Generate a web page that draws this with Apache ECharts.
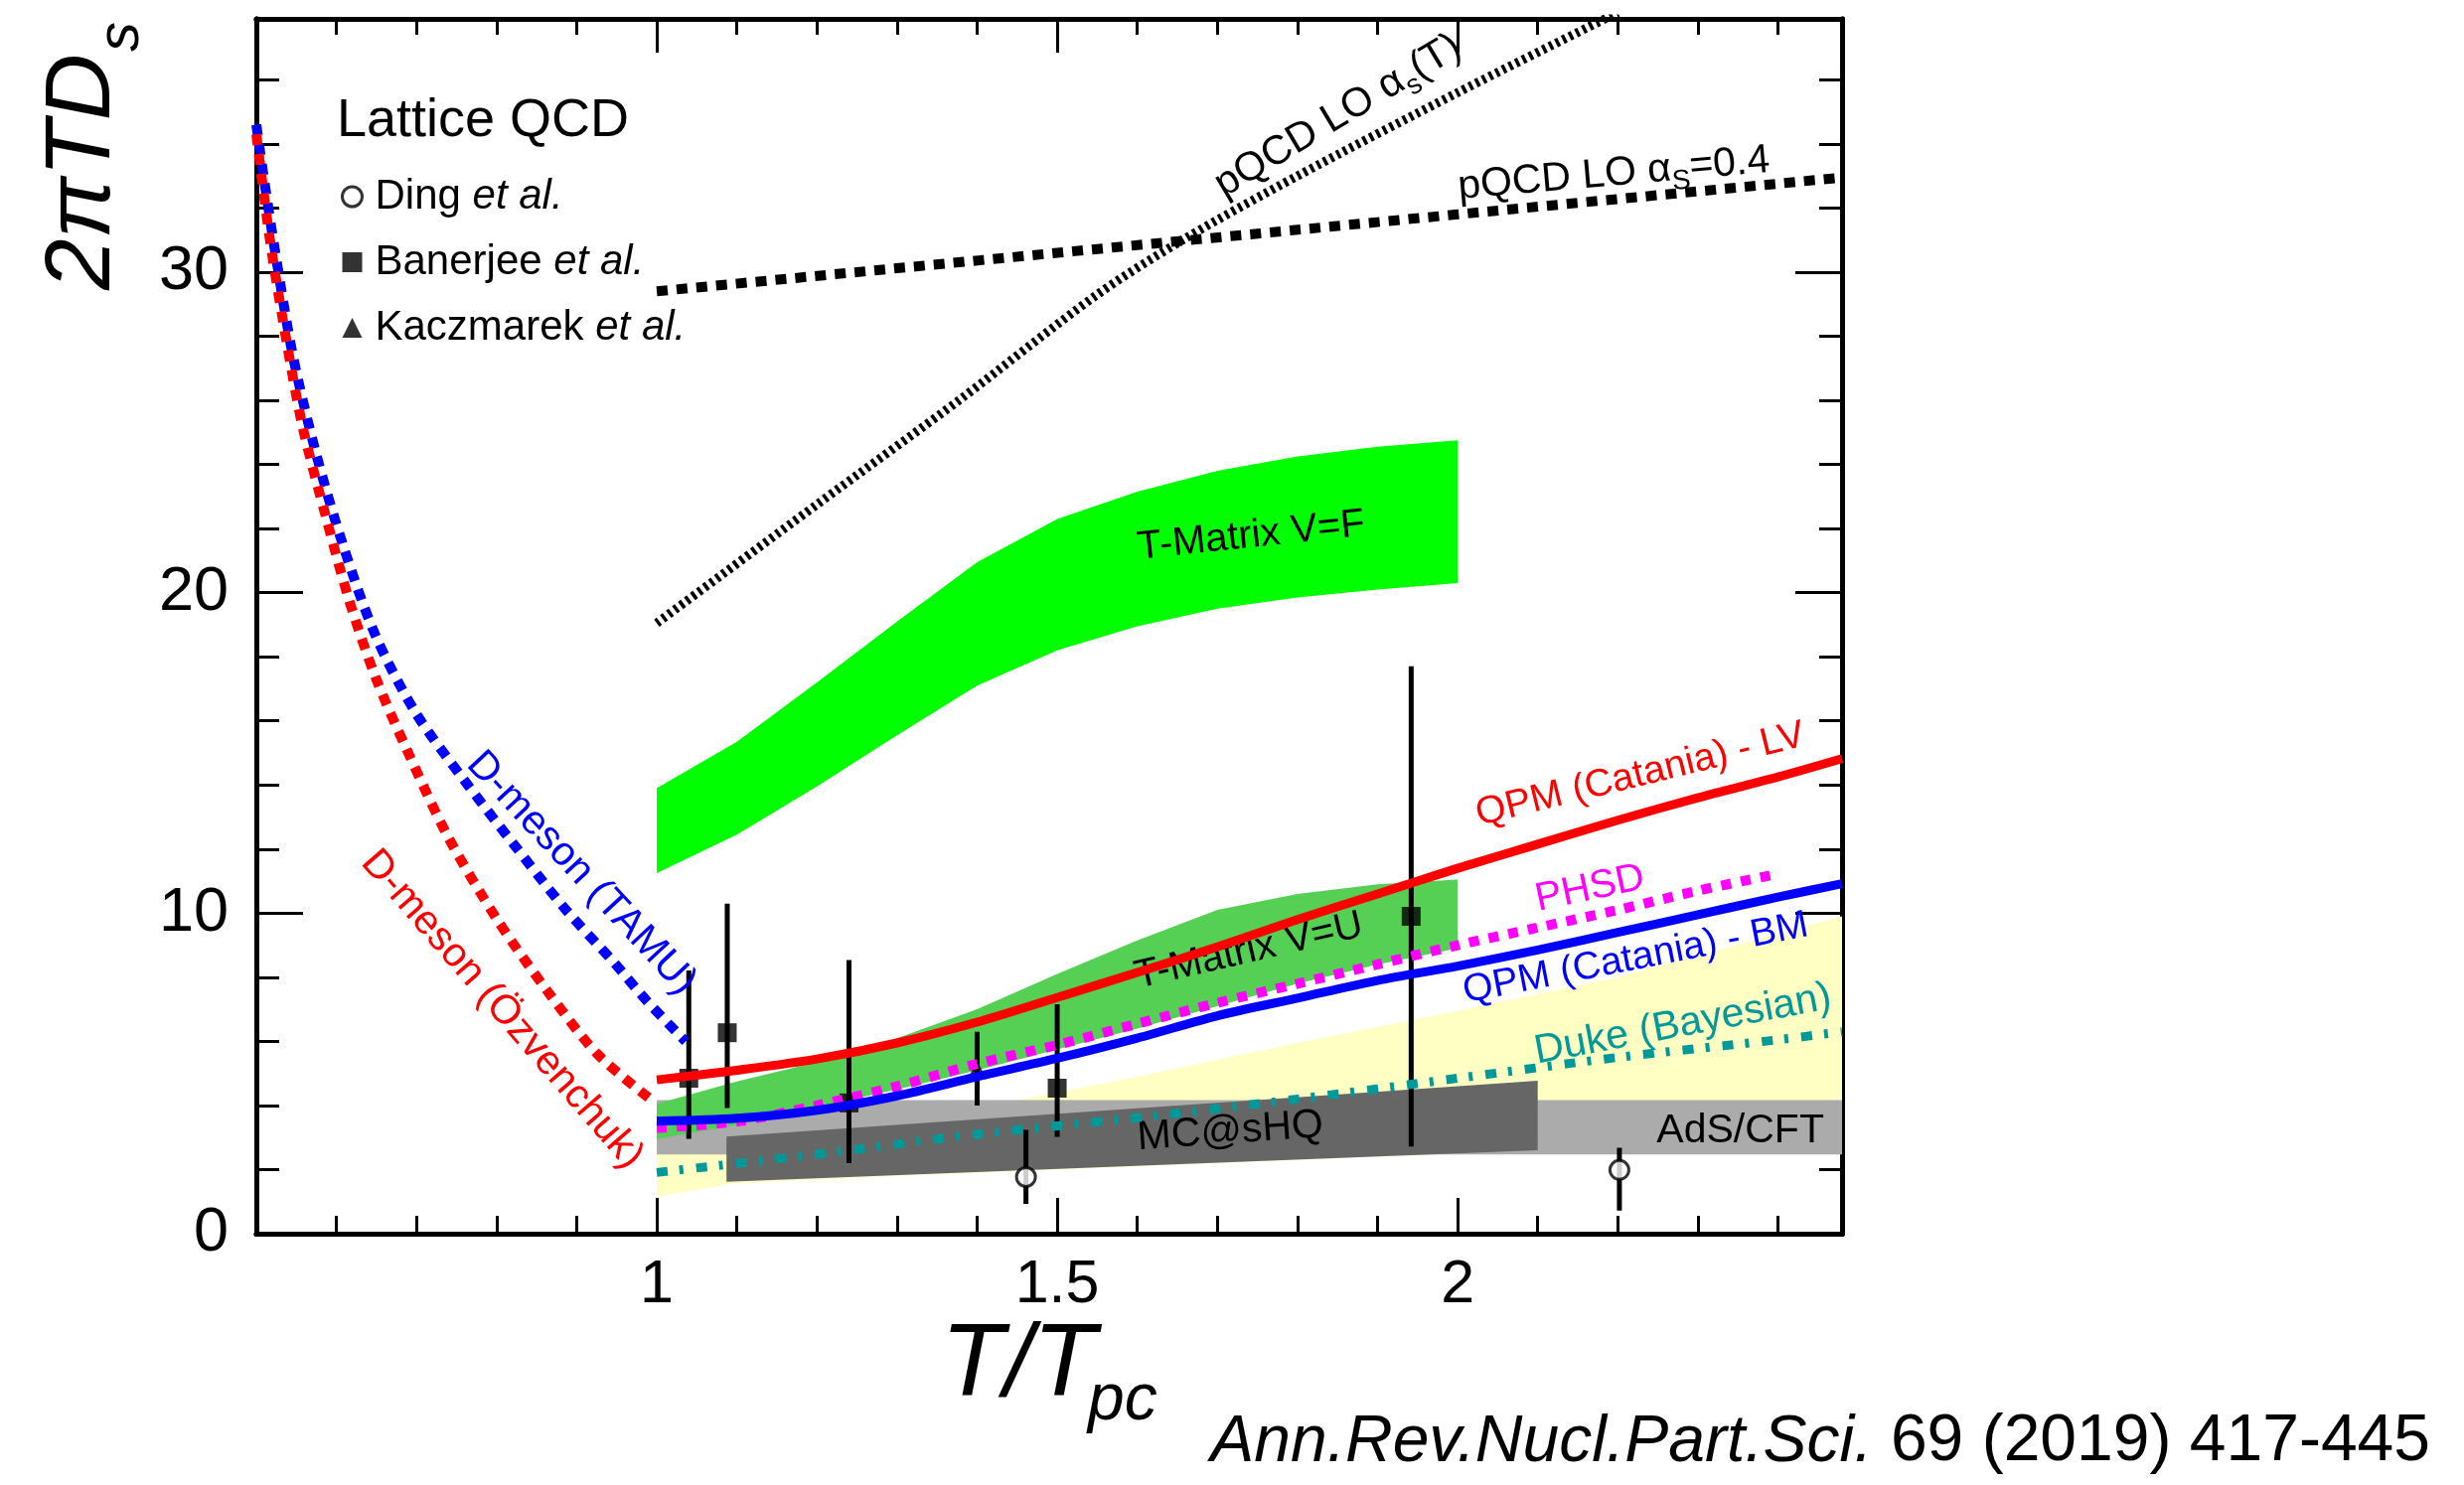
<!DOCTYPE html>
<html><head><meta charset="utf-8">
<script src="https://cdn.jsdelivr.net/npm/echarts@6/dist/echarts.min.js"></script>
<style>html,body{margin:0;padding:0;background:#fff}#c{width:2480px;height:1495px}</style>
</head><body><div id="c"></div>
<script>
const FONT = '"Liberation Sans", Arial, Helvetica, sans-serif';

// ---------- axes ----------
const xRange = [0.5, 2.48];
const yRange = [0, 37.9];
const xMajorStep = 0.5, xMinorStep = 0.1;
const yMajorStep = 10, yMinorStep = 2;

// ---------- pQCD ----------
const pqcdFixedT = [1.0, 1.25, 1.5, 1.75, 2.0, 2.25, 2.48];
const pqcdFixedD = [29.4, 30.0, 30.6, 31.2, 31.8, 32.4, 32.95];
const pqcdRunT = [1.0, 1.2, 1.38, 1.55, 1.66, 1.8, 2.0, 2.2];
const pqcdRunD = [19.05, 22.75, 26.05, 29.3, 31.05, 33.0, 35.6, 38.1];

// ---------- T-matrix bands ----------
const tmT = [1.0, 1.1, 1.2, 1.3, 1.4, 1.5, 1.6, 1.7, 1.8, 1.9, 2.0];
const tmFHi = [13.9, 15.35, 17.2, 19.1, 20.95, 22.3, 23.15, 23.8, 24.25, 24.55, 24.75];
const tmFLo = [11.25, 12.45, 13.95, 15.55, 17.1, 18.2, 18.95, 19.5, 19.85, 20.1, 20.3];
const tmUHi = [4.05, 4.75, 5.35, 6.1, 7.0, 8.1, 9.15, 10.1, 10.6, 10.9, 11.05];
const tmULo = [2.95, 3.4, 3.95, 4.5, 5.1, 5.75, 6.4, 7.1, 7.8, 8.4, 8.9];

// ---------- QPM Catania ----------
const qpmT = [1.0, 1.1, 1.2, 1.3, 1.4, 1.5, 1.6, 1.7, 1.8, 1.9, 2.0, 2.1, 2.2, 2.3, 2.4, 2.48];
const qpmLV = [4.8, 5.1, 5.45, 5.95, 6.6, 7.37, 8.15, 8.95, 9.8, 10.6, 11.4, 12.15, 12.9, 13.6, 14.25, 14.82];
const qpmBM = [3.51, 3.6, 3.85, 4.3, 4.9, 5.47, 6.1, 6.8, 7.35, 7.9, 8.35, 8.85, 9.4, 9.95, 10.5, 10.92];

// ---------- PHSD ----------
const phsdT = [1.0, 1.1, 1.2, 1.3, 1.4, 1.5, 1.6, 1.7, 1.8, 1.9, 2.0, 2.1, 2.2, 2.3, 2.4];
const phsdD = [3.3, 3.5, 4.0, 4.6, 5.3, 5.89, 6.55, 7.2, 7.8, 8.4, 9.0, 9.55, 10.1, 10.7, 11.23];

// ---------- Duke (Bayesian) ----------
const dukeT = [1.0, 1.2, 1.4, 1.6, 1.8, 2.0, 2.2, 2.4, 2.48];
const dukeD = [1.91, 2.48, 3.1, 3.62, 4.2, 4.85, 5.5, 6.05, 6.3];
const dukeBandT = [1.0, 1.09, 1.2, 1.4, 1.5, 1.6, 1.8, 2.0, 2.2, 2.48];
const dukeBandHi = [2.9, 3.05, 3.3, 3.95, 4.4, 4.9, 5.95, 6.95, 8.0, 9.9];
const dukeBandLo = [1.15, 1.55, 1.7, 1.9, 2.0, 2.1, 2.3, 2.5, 2.7, 2.9];

// ---------- AdS/CFT and MC@sHQ ----------
const adsT = [1.0, 2.48];
const adsHi = [4.17, 4.17];
const adsLo = [2.47, 2.47];
const mcT = [1.087, 2.1];
const mcHi = [3.03, 4.77];
const mcLo = [1.62, 2.6];

// ---------- D-meson (hadronic) ----------
const dTamuT = [0.5, 0.509, 0.525, 0.546, 0.575, 0.608, 0.649, 0.699, 0.761, 0.823, 0.885, 0.947, 0.988, 1.036];
const dTamuD = [34.6, 33.0, 30.4, 27.35, 24.3, 21.5, 18.65, 16.25, 14.1, 12.1, 10.15, 8.45, 7.25, 6.0];
const dOzvT = [0.5, 0.517, 0.538, 0.558, 0.587, 0.616, 0.649, 0.687, 0.74, 0.802, 0.864, 0.926, 0.992];
const dOzvD = [34.3, 31.0, 27.8, 25.15, 22.35, 19.75, 17.35, 15.15, 12.35, 9.75, 7.55, 5.6, 4.2];

// ---------- Lattice QCD ----------
const dingT = [1.461, 2.202];
const dingD = [1.77, 1.99];
const dingLo = [0.93, 0.72];
const dingHi = [3.24, 2.68];
const banerjeeT = [1.04, 1.088, 1.24, 1.5, 1.942];
const banerjeeD = [4.85, 6.27, 4.08, 4.54, 9.9];
const banerjeeLo = [2.96, 3.92, 2.2, 3.02, 2.72];
const banerjeeHi = [8.21, 10.3, 8.54, 7.16, 17.7];
const kaczT = [1.40];
const kaczD = [5.11];
const kaczLo = [4.0];
const kaczHi = [6.3];

// ---------- annotations (anchor in data units, angle in degrees) ----------
const annotations = [
  {segs: [['pQCD LO α', 41], ['s', 28, false, 0, 9], ['(T)', 41]], at: [1.850, 34.9], angle: 31, color: '#000'},
  {segs: [['pQCD LO α', 41], ['S', 28, false, 0, 9], ['=0.4', 41]], at: [2.195, 33.1], angle: 5, color: '#000'},
  {segs: [['T-Matrix V=F', 40]], at: [1.742, 21.8], angle: 6, color: '#000'},
  {segs: [['T-Matrix V=U', 40]], at: [1.739, 8.85], angle: 13, color: '#000'},
  {segs: [['QPM (Catania) - LV', 39]], at: [2.228, 14.35], angle: 13.8, color: '#ff0000'},
  {segs: [['PHSD', 40]], at: [2.165, 10.8], angle: 12, color: '#ff00ff'},
  {segs: [['QPM (Catania) - BM', 39]], at: [2.222, 8.62], angle: 11, color: '#0000ff'},
  {segs: [['Duke (Bayesian)', 41]], at: [2.281, 6.56], angle: 10.6, color: '#009999'},
  {segs: [['MC@sHQ', 41]], at: [1.716, 3.22], angle: 4, color: '#000'},
  {segs: [['AdS/CFT', 41]], at: [2.353, 3.23], angle: 0, color: '#000'},
  {segs: [['D-meson (TAMU)', 41]], at: [0.907, 11.27], angle: -47, color: '#0000ff'},
  {segs: [['D-meson (Özvenchuk)', 41]], at: [0.808, 7.02], angle: -49, color: '#ff0000'}
];

// ---------- helpers ----------
const mctx = document.createElement('canvas').getContext('2d');
function textWidth(t, size, italic) {
  mctx.font = (italic ? 'italic ' : '') + size + 'px ' + FONT;
  return mctx.measureText(t).width;
}
// segs: [text, size, italic, dx, dy]; baseline at y=0, start at x=0
function compose(segs, color, center) {
  let x = 0, main = 0;
  const kids = [];
  for (const s of segs) {
    const [t, size, it = false, dx = 0, dy = 0] = s;
    main = Math.max(main, size);
    x += dx;
    kids.push({type: 'text', x: x, y: dy - 0.33 * size, silent: true,
      style: {text: t, fontSize: size, fontFamily: FONT, fontStyle: it ? 'italic' : 'normal',
        fill: color, align: 'left', verticalAlign: 'middle'}});
    x += textWidth(t, size, it);
  }
  if (center) {
    const ox = -x / 2, oy = 0.36 * main;
    kids.forEach(k => { k.x += ox; k.y += oy; });
  }
  return {kids, width: x};
}
const zip = (a, b) => a.map((v, i) => [v, b[i]]);

function bandSeries(name, T, hi, lo, color) {
  return {
    type: 'custom', name, silent: true, clip: true,
    xAxisIndex: 0, yAxisIndex: 0,
    data: [[T[0], lo[0]]],
    renderItem: (params, api) => {
      const pts = [];
      for (let i = 0; i < T.length; i++) pts.push(api.coord([T[i], hi[i]]));
      for (let i = T.length - 1; i >= 0; i--) pts.push(api.coord([T[i], lo[i]]));
      return {type: 'polygon', shape: {points: pts}, style: {fill: color, stroke: null}};
    }
  };
}
function lineSeries(name, T, D, color, width, type, smooth) {
  return {
    type: 'line', name, data: zip(T, D), xAxisIndex: 0, yAxisIndex: 0,
    showSymbol: false, symbol: 'none', smooth: smooth, silent: true, clip: true,
    lineStyle: {color, width, type, cap: 'butt', join: 'round'}
  };
}
function xAx(pos, interval, len, labels) {
  return {type: 'value', position: pos, min: xRange[0], max: xRange[1], interval,
    axisLine: {show: true, onZero: false, lineStyle: {color: '#000', width: 5}},
    axisTick: {show: true, inside: true, length: len, lineStyle: {color: '#000', width: 3}},
    axisLabel: {show: labels, showMinLabel: false, showMaxLabel: false, fontSize: 61,
      fontFamily: FONT, color: '#000', margin: 22},
    splitLine: {show: false}};
}
function yAx(pos, interval, len, labels) {
  return {type: 'value', position: pos, min: yRange[0], max: yRange[1], interval,
    axisLine: {show: true, onZero: false, lineStyle: {color: '#000', width: 5}},
    axisTick: {show: true, inside: true, length: len, lineStyle: {color: '#000', width: 3}},
    axisLabel: {show: labels, showMinLabel: true, showMaxLabel: false, fontSize: 63,
      fontFamily: FONT, color: '#000', margin: 28},
    splitLine: {show: false}};
}

const errRows = []
  .concat(dingT.map((t, i) => [t, dingLo[i], dingHi[i]]))
  .concat(banerjeeT.map((t, i) => [t, banerjeeLo[i], banerjeeHi[i]]))
  .concat(kaczT.map((t, i) => [t, kaczLo[i], kaczHi[i]]));

const yTitle = compose([['2π', 93, true], ['TD', 93, true], ['s', 60, true, 2, 27]], '#000', false);
const xTitle = compose([['T/T', 104, true], ['pc', 66, true, -8, 22]], '#000', false);
const cite = compose([['Ann.Rev.Nucl.Part.Sci.', 66, true], [' 69 (2019) 417-445', 66, false]], '#000', false);

const chart = echarts.init(document.getElementById('c'), null, {renderer: 'canvas', width: 2480, height: 1495});
chart.setOption({
  animation: false,
  backgroundColor: '#fff',
  grid: {left: 258, right: 626, top: 19, bottom: 253},
  xAxis: [
    xAx('bottom', xMajorStep, 36, true),
    xAx('bottom', xMinorStep, 18, false),
    xAx('top', xMajorStep, 34, false),
    xAx('top', xMinorStep, 16, false)
  ],
  yAxis: [
    yAx('left', yMajorStep, 47, true),
    yAx('left', yMinorStep, 23, false),
    yAx('right', yMajorStep, 47, false),
    yAx('right', yMinorStep, 23, false)
  ],
  legend: {
    orient: 'vertical', left: 338, top: 172, itemWidth: 20, itemHeight: 20, itemGap: 24,
    selectedMode: false,
    data: [
      {name: 'Ding et al.', icon: 'circle', itemStyle: {color: '#fff', borderColor: '#000', borderWidth: 3}},
      {name: 'Banerjee et al.', icon: 'rect', itemStyle: {color: '#000'}},
      {name: 'Kaczmarek et al.', icon: 'triangle', itemStyle: {color: '#000'}}
    ],
    formatter: n => '{n|' + n.replace(' et al.', '') + ' }{i|et al.}',
    textStyle: {color: '#000', fontFamily: FONT, fontSize: 42,
      rich: {
        n: {fontFamily: FONT, fontSize: 42, lineHeight: 48, padding: [0, 0, 0, 8], color: '#000'},
        i: {fontFamily: FONT, fontSize: 42, fontStyle: 'italic', lineHeight: 48, color: '#000'}
      }}
  },
  graphic: [
    {type: 'text', x: 339, y: 122, silent: true,
      style: {text: 'Lattice QCD', fontSize: 54, fontFamily: FONT, fill: '#000', align: 'left', verticalAlign: 'middle'}},
    {type: 'group', x: 115, y: 292, rotation: Math.PI / 2, children: yTitle.kids},
    {type: 'group', x: 947, y: 1410, children: xTitle.kids},
    {type: 'group', x: 2446 - cite.width, y: 1474, children: cite.kids}
  ],
  series: [
    bandSeries('Duke band', dukeBandT, dukeBandHi, dukeBandLo, '#ffffc4'),
    bandSeries('AdS/CFT', adsT, adsHi, adsLo, '#ababab'),
    bandSeries('MC@sHQ', mcT, mcHi, mcLo, '#666666'),
    bandSeries('T-Matrix V=F', tmT, tmFHi, tmFLo, '#00ff00'),
    bandSeries('T-Matrix V=U', tmT, tmUHi, tmULo, '#55d055'),
    lineSeries('Duke (Bayesian)', dukeT, dukeD, '#009999', 9, [11, 12, 4, 13], 0.3),
    lineSeries('PHSD', phsdT, phsdD, '#ff00ff', 10, [10, 10], 0.3),
    lineSeries('QPM (Catania) - BM', qpmT, qpmBM, '#0000ff', 9, 'solid', 0.3),
    lineSeries('QPM (Catania) - LV', qpmT, qpmLV, '#ff0000', 9, 'solid', 0.3),
    lineSeries('D-meson (TAMU)', dTamuT, dTamuD, '#0000ff', 10, [11, 9], 0.3),
    lineSeries('D-meson (Özvenchuk)', dOzvT, dOzvD, '#ff0000', 10, [11, 9], 0.3),
    lineSeries('pQCD LO alpha_s(T)', pqcdRunT, pqcdRunD, '#000', 9, [3.5, 4], 0.3),
    lineSeries('pQCD LO alpha_s=0.4', pqcdFixedT, pqcdFixedD, '#000', 10, [11, 9], false),
    {
      type: 'custom', name: 'error bars', silent: true, clip: true, xAxisIndex: 0, yAxisIndex: 0,
      data: errRows, encode: {x: 0, y: [1, 2]},
      renderItem: (params, api) => {
        const a = api.coord([api.value(0), api.value(1)]);
        const b = api.coord([api.value(0), api.value(2)]);
        return {type: 'line', shape: {x1: a[0], y1: a[1], x2: b[0], y2: b[1]}, style: {stroke: '#000', lineWidth: 5}};
      }
    },
    {type: 'scatter', name: 'Ding et al.', data: zip(dingT, dingD), symbol: 'circle', symbolSize: 19,
      itemStyle: {color: '#fff', borderColor: '#000', borderWidth: 3}, silent: true},
    {type: 'scatter', name: 'Banerjee et al.', data: zip(banerjeeT, banerjeeD), symbol: 'rect', symbolSize: 19,
      itemStyle: {color: '#000'}, silent: true},
    {type: 'scatter', name: 'Kaczmarek et al.', data: zip(kaczT, kaczD), symbol: 'triangle', symbolSize: 19,
      itemStyle: {color: '#000'}, silent: true},
    {
      type: 'custom', name: 'annotations', silent: true, xAxisIndex: 0, yAxisIndex: 0,
      data: annotations.map(a => a.at),
      renderItem: (params, api) => {
        const a = annotations[params.dataIndex];
        const p = api.coord(a.at);
        const c = compose(a.segs, a.color, true);
        return {type: 'group', x: p[0], y: p[1], rotation: a.angle * Math.PI / 180, children: c.kids};
      }
    }
  ]
});
</script></body></html>
